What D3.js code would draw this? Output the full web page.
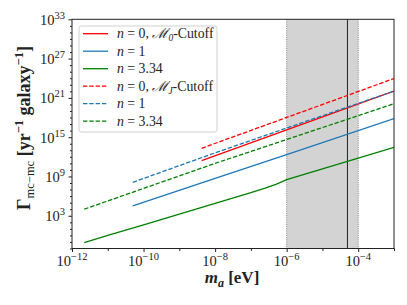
<!DOCTYPE html>
<html>
<head>
<meta charset="utf-8">
<script src="https://cdn.jsdelivr.net/npm/d3@7"></script>
<style>
body { margin: 0; background: #fff; }
text { font-family: "Liberation Serif", "DejaVu Serif", serif; fill: #222; }
</style>
</head>
<body>
<svg id="chart" width="407" height="305"></svg>
<script>
// axion mass m_a [eV] and merger rate values
var green_solid_m = [2.2e-12, 1e-11, 1e-10, 1e-9, 1e-8, 1e-7, 2.5e-7, 5e-7, 1e-6, 1e-5, 1e-4, 1e-3];
var green_solid_g = [0.08, 1, 40, 1.8e3, 8e4, 3.5e6, 1.6e7, 6.3e7, 3.2e8, 1.4e10, 6.3e11, 2.8e13];

var blue_solid_m = [5e-11, 1e-8, 1e-6, 1e-3];
var blue_solid_g = [3.2e4, 5e8, 2.2e12, 7e17];

var red_solid_m = [4.2e-9, 1e-6, 1e-3];
var red_solid_g = [2.6e11, 1.35e16, 1.1e22];

var red_dash_m = [4.2e-9, 1e-3];
var red_dash_g = [2e13, 9e23];

var blue_dash_m = [5e-11, 1e-8, 1e-6, 1e-3];
var blue_dash_g = [1.3e8, 4e12, 2.5e16, 1.1e22];

var green_dash_m = [2.2e-12, 1e-8, 1e-3];
var green_dash_g = [1e4, 1e11, 1.3e20];

var band = [1e-6, 1e-4];
var marker_m = 5e-5;

var x_major_exp = [-12, -10, -8, -6, -4];
var x_minor_exp = [-11, -9, -7, -5, -3];
var y_major_exp = [3, 9, 15, 21, 27, 33];

var plot_left = 72,
    plot_right = 394,
    plot_top = 19.3,
    plot_bottom = 248.5;

var svg = d3.select('#chart');

var x = d3.scaleLog().domain([1e-12, 1e-3]).range([plot_left, plot_right]);
var y = d3.scaleLog().domain([1e-2, 1e33]).range([plot_bottom, plot_top]);

function zip(ms, gs) {
    return ms.map(function(m, i) { return [m, gs[i]]; });
}

var series = [
    {label: ['0', '0'], color: '#ff0000', dash: null, data: zip(red_solid_m, red_solid_g)},
    {label: ['1'], color: '#1f77b4', dash: null, data: zip(blue_solid_m, blue_solid_g)},
    {label: ['3.34'], color: '#008000', dash: null, data: zip(green_solid_m, green_solid_g)},
    {label: ['0', 'J'], color: '#ff0000', dash: '4.4,1.9', data: zip(red_dash_m, red_dash_g)},
    {label: ['1'], color: '#1f77b4', dash: '4.4,1.9', data: zip(blue_dash_m, blue_dash_g)},
    {label: ['3.34'], color: '#008000', dash: '4.4,1.9', data: zip(green_dash_m, green_dash_g)}
];

svg.append('defs').append('clipPath').attr('id', 'plotclip')
    .append('rect')
    .attr('x', plot_left).attr('y', plot_top)
    .attr('width', plot_right - plot_left).attr('height', plot_bottom - plot_top);

// shaded band
svg.append('rect')
    .attr('x', x(band[0]))
    .attr('y', plot_top)
    .attr('width', x(band[1]) - x(band[0]))
    .attr('height', plot_bottom - plot_top)
    .style('fill', '#d3d3d3');

band.forEach(function(b) {
    svg.append('line')
        .attr('x1', x(b)).attr('x2', x(b))
        .attr('y1', plot_top).attr('y2', plot_bottom)
        .style('stroke', '#888')
        .style('stroke-width', 1)
        .style('stroke-dasharray', '1,1.2');
});

svg.append('line')
    .attr('x1', x(marker_m)).attr('x2', x(marker_m))
    .attr('y1', plot_top).attr('y2', plot_bottom)
    .style('stroke', '#222')
    .style('stroke-width', 1);

var line = d3.line()
    .x(function(d) { return x(d[0]); })
    .y(function(d) { return y(d[1]); });

svg.append('g').attr('clip-path', 'url(#plotclip)')
    .selectAll('path').data(series)
    .enter().append('path')
    .attr('d', function(d) { return line(d.data); })
    .style('fill', 'none')
    .style('stroke', function(d) { return d.color; })
    .style('stroke-width', 1.3)
    .style('stroke-dasharray', function(d) { return d.dash; });

// axes
var xAxis = svg.append('g')
    .attr('transform', 'translate(0,' + plot_bottom + ')');
xAxis.append('g').call(d3.axisBottom(x)
    .tickValues(x_major_exp.map(function(e) { return Math.pow(10, e); }))
    .tickSize(3.5).tickFormat(function() { return ''; }));
xAxis.append('g').call(d3.axisBottom(x)
    .tickValues(x_minor_exp.map(function(e) { return Math.pow(10, e); }))
    .tickSize(2.5).tickFormat(function() { return ''; }));
xAxis.selectAll('.domain').remove();
xAxis.selectAll('line').style('stroke', '#222');

var yAxis = svg.append('g')
    .attr('transform', 'translate(' + plot_left + ',0)');
var y_minor = d3.range(-2, 34).filter(function(e) { return y_major_exp.indexOf(e) < 0; });
yAxis.append('g').call(d3.axisLeft(y)
    .tickValues(y_minor.map(function(e) { return Math.pow(10, e); }))
    .tickSize(2).tickFormat(function() { return ''; }));
yAxis.append('g').call(d3.axisLeft(y)
    .tickValues(y_major_exp.map(function(e) { return Math.pow(10, e); }))
    .tickSize(3.5).tickFormat(function() { return ''; }));
yAxis.selectAll('.domain').remove();
yAxis.selectAll('line').style('stroke', '#222');

// tick labels
x_major_exp.forEach(function(e) {
    var t = svg.append('text')
        .attr('x', x(Math.pow(10, e)))
        .attr('y', plot_bottom + 17.5)
        .attr('text-anchor', 'middle')
        .style('font-size', '14.5px');
    t.append('tspan').text('10');
    t.append('tspan').attr('dy', -6).style('font-size', '10.5px').text('\u2212' + (-e));
});

y_major_exp.forEach(function(e) {
    var t = svg.append('text')
        .attr('x', plot_left - 7)
        .attr('y', y(Math.pow(10, e)) + 5.5)
        .attr('text-anchor', 'end')
        .style('font-size', '14.5px');
    t.append('tspan').text('10');
    t.append('tspan').attr('dy', -6).style('font-size', '10.5px').text(e);
});

// frame
svg.append('rect')
    .attr('x', plot_left).attr('y', plot_top)
    .attr('width', plot_right - plot_left).attr('height', plot_bottom - plot_top)
    .style('fill', 'none')
    .style('stroke', '#222')
    .style('stroke-width', 1);

// axis titles
var xl = svg.append('text')
    .attr('x', 232)
    .attr('y', 283)
    .attr('text-anchor', 'middle')
    .style('font-size', '17px')
    .style('font-weight', 'bold');
xl.append('tspan').style('font-style', 'italic').text('m');
xl.append('tspan').attr('dy', 3.5).style('font-size', '12px').style('font-style', 'italic').text('a');
xl.append('tspan').attr('dy', -3.5).text(' [eV]');

var yl = svg.append('text')
    .attr('transform', 'translate(29.5,128) rotate(-90)')
    .attr('text-anchor', 'middle')
    .style('font-size', '18px')
    .style('font-weight', 'bold');
yl.append('tspan').text('\u0393');
yl.append('tspan').attr('dy', 4).style('font-size', '12.5px').style('font-weight', 'normal').text('mc\u2212mc');
yl.append('tspan').attr('dy', -4).text(' [yr');
yl.append('tspan').attr('dy', -7).style('font-size', '12.5px').text('\u22121');
yl.append('tspan').attr('dy', 7).text(' galaxy');
yl.append('tspan').attr('dy', -7).style('font-size', '12.5px').text('\u22121');
yl.append('tspan').attr('dy', 7).text(']');

// legend
var legend = svg.append('g');
legend.append('rect')
    .attr('x', 79).attr('y', 26)
    .attr('width', 138).attr('height', 106)
    .attr('rx', 2.5)
    .style('fill', 'rgba(255,255,255,0.8)')
    .style('stroke', '#d0d0d0')
    .style('stroke-width', 1);

var entry = legend.selectAll('.entry').data(series)
    .enter().append('g')
    .attr('class', 'entry')
    .attr('transform', function(d, i) { return 'translate(0,' + (33.7 + i * 17.5) + ')'; });

entry.append('line')
    .attr('x1', 83).attr('x2', 108)
    .style('stroke', function(d) { return d.color; })
    .style('stroke-width', 1.3)
    .style('stroke-dasharray', function(d) { return d.dash; });

entry.append('text')
    .attr('x', 117)
    .attr('y', 4.6)
    .style('font-size', '13.8px')
    .each(function(d) {
        var t = d3.select(this);
        t.append('tspan').style('font-style', 'italic').text('n');
        t.append('tspan').text(' = ' + d.label[0]);
        if (d.label.length > 1) {
            t.append('tspan').text(', ');
            t.append('tspan').style('font-style', 'italic').text('\u2133');
            t.append('tspan').attr('dy', 3).style('font-size', '9.5px').style('font-style', 'italic').text(d.label[1]);
            t.append('tspan').attr('dy', -3).text('-Cutoff');
        }
    });
</script>
</body>
</html>
